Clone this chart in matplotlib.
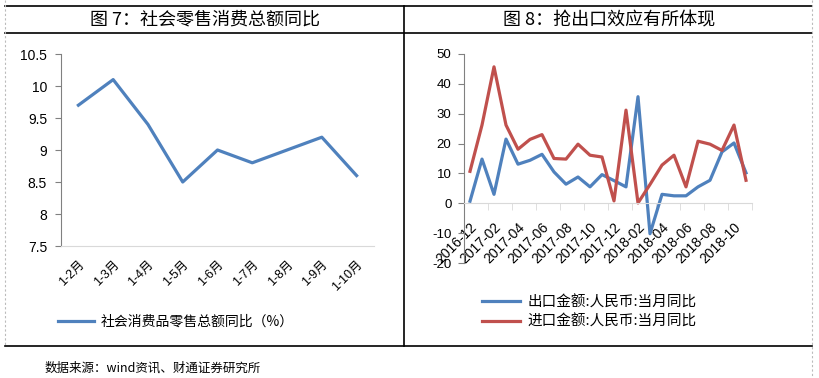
import matplotlib
matplotlib.use("Agg")
import matplotlib.pyplot as plt
from matplotlib.lines import Line2D
import numpy as np

plt.rcParams["font.family"] = ["Liberation Sans", "Noto Sans CJK SC", "DejaVu Sans"]

# 图7 data
retail_cats = ["1-2月", "1-3月", "1-4月", "1-5月", "1-6月", "1-7月", "1-8月", "1-9月", "1-10月"]
retail_yoy = [9.7, 10.1, 9.4, 8.5, 9.0, 8.8, 9.0, 9.2, 8.6]

# 图8 data
months = ["2016-12", "2017-01", "2017-02", "2017-03", "2017-04", "2017-05", "2017-06",
          "2017-07", "2017-08", "2017-09", "2017-10", "2017-11", "2017-12", "2018-01",
          "2018-02", "2018-03", "2018-04", "2018-05", "2018-06", "2018-07", "2018-08",
          "2018-09", "2018-10", "2018-11"]
export_yoy = [0.7, 14.8, 3.0, 21.5, 13.1, 14.4, 16.4, 10.5, 6.4, 8.8, 5.5, 9.6,
              7.6, 5.5, 35.7, -10.2, 3.0, 2.5, 2.5, 5.5, 7.7, 17.2, 20.2, 10.2]
import_yoy = [10.7, 26.2, 45.7, 26.2, 18.1, 21.4, 23.0, 15.0, 14.8, 19.8, 16.1, 15.5,
              0.8, 31.2, 0.1, 6.3, 12.8, 16.1, 5.5, 20.8, 19.8, 17.7, 26.2, 7.7]

blue = "#4F81BD"
red = "#C0504D"
W, H = 819, 378

fig = plt.figure(figsize=(W / 100, H / 100), dpi=100)

# frame lines
def hline(y, x0, x1, **kw):
    fig.add_artist(Line2D([x0 / W, x1 / W], [1 - y / H, 1 - y / H], **kw))

def vline(x, y0, y1, **kw):
    fig.add_artist(Line2D([x / W, x / W], [1 - y0 / H, 1 - y1 / H], **kw))

hline(6, 5, 812, color="black", lw=1.2)
hline(33, 5, 812, color="black", lw=1.2)
hline(346, 5, 812, color="black", lw=1.2)
vline(404, 6, 346, color="black", lw=1.2)
vline(5, 0, 346, color="#bbbbbb", lw=0.8, ls=(0, (2, 2)))
vline(812, 0, 378, color="#bbbbbb", lw=0.8, ls=(0, (2, 2)))

fig.text(205 / W, 1 - 20 / H, "图 7：社会零售消费总额同比", ha="center", va="center",
         fontsize=13, family=["Noto Sans CJK SC"])
fig.text(609 / W, 1 - 20 / H, "图 8：抢出口效应有所体现", ha="center", va="center",
         fontsize=13, family=["Noto Sans CJK SC"])

# left chart
ax1 = fig.add_axes([61 / W, (H - 246) / H, 313 / W, 192 / H])
x1 = np.arange(len(retail_cats))
ax1.plot(x1, retail_yoy, color=blue, lw=2.3, label="社会消费品零售总额同比（%）")
ax1.set_xlim(-0.5, len(retail_cats) - 0.5)
ax1.set_ylim(7.5, 10.5)
ax1.set_yticks([7.5, 8, 8.5, 9, 9.5, 10, 10.5])
ax1.set_yticklabels(["7.5", "8", "8.5", "9", "9.5", "10", "10.5"], fontsize=10)
ax1.set_xticks(x1)
ax1.set_xticklabels(retail_cats, rotation=45, ha="right", va="top",
                    rotation_mode="anchor", fontsize=9)
ax1.tick_params(axis="x", length=0, pad=9)
ax1.tick_params(axis="y", length=4, color="#808080", pad=6)
for s in ["top", "right"]:
    ax1.spines[s].set_visible(False)
ax1.spines["left"].set_color("#808080")
ax1.spines["bottom"].set_color("#d9d9d9")
ax1.patch.set_alpha(0)

fig.legend(handles=ax1.get_lines(), loc="center left",
           bbox_to_anchor=(45 / W, 1 - 322 / H), frameon=False,
           handlelength=2.6, handletextpad=0.5, prop={"family": "Noto Sans CJK SC", "size": 10})

# right chart
ax2 = fig.add_axes([464 / W, (H - 263) / H, 288 / W, 209 / H])
ax2.spines["bottom"].set_position(("data", 0))
x2 = np.arange(len(months))
ax2.plot(x2, export_yoy, color=blue, lw=2.3, label="出口金额:人民币:当月同比")
ax2.plot(x2, import_yoy, color=red, lw=2.3, label="进口金额:人民币:当月同比")
ax2.set_xlim(-0.5, len(months) - 0.5)
ax2.set_ylim(-20, 50)
ax2.set_yticks(range(-20, 51, 10))
ax2.set_yticklabels([str(v) for v in range(-20, 51, 10)], fontsize=9.5)
ax2.set_xticks(x2[::2])
ax2.set_xticklabels(months[::2], rotation=45, ha="right", va="top",
                    rotation_mode="anchor", fontsize=10)
ax2.set_xticks(np.arange(1.5, len(months), 2), minor=True)
ax2.tick_params(axis="x", which="major", length=0, pad=12)
ax2.tick_params(axis="x", which="minor", length=5, color="#d9d9d9")
ax2.tick_params(axis="y", length=4, color="#808080", pad=5)
for s in ["top", "right"]:
    ax2.spines[s].set_visible(False)
ax2.spines["left"].set_color("#808080")
ax2.spines["bottom"].set_color("#d9d9d9")
ax2.patch.set_alpha(0)

fig.legend(handles=ax2.get_lines(), loc="center left",
           bbox_to_anchor=(469 / W, 1 - 312 / H), frameon=False,
           handlelength=2.6, handletextpad=0.5, labelspacing=0.35,
           prop={"family": "Noto Sans CJK SC", "size": 10.5})

fig.text(45 / W, 1 - 368 / H, "数据来源：wind资讯、财通证券研究所", ha="left", va="center",
         fontsize=9, family=["Noto Sans CJK SC"])

fig.savefig("out.png", dpi=100)
